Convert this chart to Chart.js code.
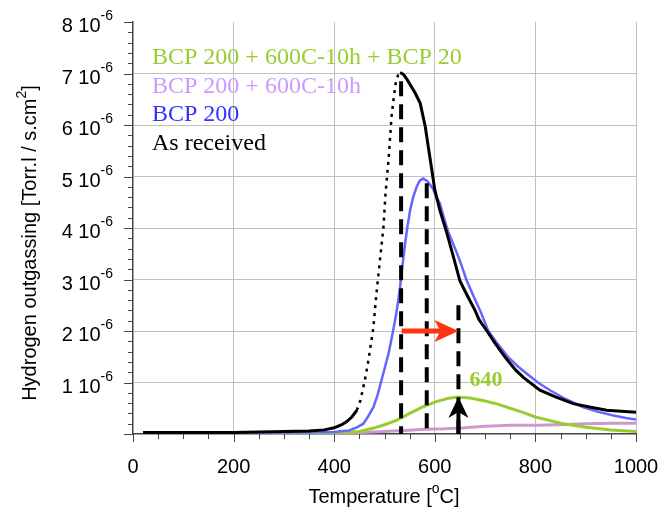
<!DOCTYPE html>
<html>
<head>
<meta charset="utf-8">
<script src="https://cdn.jsdelivr.net/npm/chart.js@4/dist/chart.umd.min.js"></script>
<style>
html, body { margin: 0; padding: 0; background: #fff; }
#wrap { width: 662px; height: 515px; }
</style>
</head>
<body>
<div id="wrap"><canvas id="graf" width="662" height="515"></canvas></div>
<script>
// valeurs en 1e-6 Torr.l / s.cm2, temperatures en degC
const tempAsReceived = [20,100,200,300,350,380,400,415,425,435,445,452,458,463,468,473,478,484,491,498,502,505,508,511,514,518,522,527,531,538,545,561,571,581,587,594,600,610,624,637,650,665,680,688,703,720,740,760,776,809,840,875,910,942,970,1000];
const asReceived = [0.03,0.03,0.03,0.05,0.06,0.08,0.12,0.18,0.24,0.33,0.46,0.65,0.91,1.15,1.43,1.75,2.08,2.73,3.38,4.02,4.67,5.0,5.32,5.75,6.16,6.5,6.8,6.97,7.02,6.98,6.88,6.62,6.42,5.97,5.58,5.13,4.74,4.35,3.9,3.44,2.97,2.68,2.4,2.22,2.01,1.76,1.49,1.25,1.1,0.85,0.72,0.59,0.52,0.46,0.44,0.42];

const tempBcp200 = [150,300,400,430,445,458,468,478,486,494,501,508,515,521,526,531,536,541,546,551,557,564,570,577,584,590,597,603,610,618,627,637,647,655,663,676,690,706,725,746,763,783,805,829,860,895,925,955,980,1000];
const bcp200 = [0.03,0.03,0.04,0.07,0.13,0.2,0.35,0.52,0.75,1.04,1.3,1.56,1.9,2.21,2.5,2.86,3.3,3.7,4.05,4.35,4.6,4.8,4.92,4.96,4.92,4.85,4.75,4.6,4.48,4.2,3.92,3.68,3.44,3.22,2.99,2.7,2.4,2.01,1.75,1.49,1.33,1.17,1.0,0.85,0.68,0.52,0.43,0.36,0.31,0.28];

const tempRecuit = [20,100,200,300,400,450,500,540,580,620,660,700,750,800,850,900,950,1000];
const bcpRecuit = [0.02,0.02,0.02,0.02,0.02,0.03,0.05,0.07,0.09,0.1,0.12,0.15,0.17,0.17,0.18,0.2,0.21,0.21];

const tempBcp20 = [20,100,200,300,400,450,480,500,525,550,575,600,625,645,670,700,725,750,775,800,825,850,875,900,950,1000];
const bcpRecuitBcp20 = [0.03,0.03,0.03,0.03,0.03,0.05,0.12,0.18,0.27,0.4,0.52,0.62,0.69,0.72,0.7,0.64,0.58,0.5,0.42,0.33,0.27,0.21,0.17,0.13,0.08,0.05];

const nomsSeries = ["As received", "BCP 200", "BCP 200 + 600C-10h", "BCP 200 + 600C-10h + BCP 20"];
const yTicks = [1,2,3,4,5,6,7,8];
const xTicks = [0,200,400,600,800,1000];

// pics et fleches
const picsTemp = [533, 584, 647];
const picsHaut = [6.85, 4.87, 2.5];
const flecheRouge = { de: 534, a: 647, val: 2.0 };
const flecheNoire = { temp: 647, de: 0, a: 0.72 };
const etiquettePic = { texte: "640", temp: 702, val: 1.04 };
// montee du pic "as received" tracee en marqueurs espaces
const monteeRecu = [440, 531];

function pts(xs, ys) { return xs.map((x, i) => ({ x: x, y: ys[i] })); }

function texteRiche(ctx, parts, x, y, align, taille, tailleSup, montee, police) {
    let larg = 0;
    parts.forEach(p => {
        ctx.font = (p.sup ? tailleSup : taille) + "px " + police;
        p.w = ctx.measureText(p.t).width;
        larg += p.w;
    });
    let cx = align === "right" ? x - larg : (align === "center" ? x - larg / 2 : x);
    parts.forEach(p => {
        ctx.font = (p.sup ? tailleSup : taille) + "px " + police;
        ctx.textAlign = "left";
        ctx.textBaseline = "alphabetic";
        ctx.fillText(p.t, cx, p.sup ? y - montee : y);
        cx += p.w;
    });
}

function fleche(ctx, x1, y1, x2, y2, ep, longTete, demiTete, creux, couleur) {
    const ang = Math.atan2(y2 - y1, x2 - x1);
    const L = Math.hypot(x2 - x1, y2 - y1);
    ctx.save();
    ctx.translate(x1, y1);
    ctx.rotate(ang);
    ctx.fillStyle = couleur;
    ctx.fillRect(0, -ep / 2, L - longTete + creux, ep);
    ctx.beginPath();
    ctx.moveTo(L, 0);
    ctx.lineTo(L - longTete, -demiTete);
    ctx.lineTo(L - longTete + creux, 0);
    ctx.lineTo(L - longTete, demiTete);
    ctx.closePath();
    ctx.fill();
    ctx.restore();
}

const annotations = {
    id: "annotations",
    afterDatasetsDraw(chart) {
        const { ctx, scales: { x, y } } = chart;
        ctx.save();
        ctx.strokeStyle = "#000";
        ctx.lineWidth = 4;
        ctx.setLineDash([15, 8]);
        picsTemp.forEach((t, i) => {
            ctx.beginPath();
            ctx.moveTo(x.getPixelForValue(t), y.getPixelForValue(picsHaut[i]));
            ctx.lineTo(x.getPixelForValue(t), y.getPixelForValue(0));
            ctx.stroke();
        });
        ctx.setLineDash([]);
        fleche(ctx, x.getPixelForValue(flecheRouge.de), y.getPixelForValue(flecheRouge.val),
            x.getPixelForValue(flecheRouge.a), y.getPixelForValue(flecheRouge.val), 5, 24, 11, 6, "#ff3311");
        fleche(ctx, x.getPixelForValue(flecheNoire.temp), y.getPixelForValue(flecheNoire.de),
            x.getPixelForValue(flecheNoire.temp), y.getPixelForValue(flecheNoire.a), 4, 21, 10, 6, "#000");
        ctx.fillStyle = "#99cc33";
        ctx.font = "bold 22px 'Liberation Serif', 'Times New Roman', serif";
        ctx.textAlign = "center";
        ctx.textBaseline = "middle";
        ctx.fillText(etiquettePic.texte, x.getPixelForValue(etiquettePic.temp), y.getPixelForValue(etiquettePic.val));
        ctx.restore();
    },
    afterDraw(chart) {
        const { ctx, scales: { x, y } } = chart;
        const sans = "'Liberation Sans', Arial, sans-serif";
        ctx.save();
        // graduations
        ctx.strokeStyle = "#444";
        ctx.lineWidth = 1;
        const x0 = x.getPixelForValue(0), y0 = y.getPixelForValue(0);
        for (let v = 0; v <= 1000; v += 50) {
            const px = Math.round(x.getPixelForValue(v)) + 0.5;
            ctx.beginPath();
            ctx.moveTo(px, y0);
            ctx.lineTo(px, y0 + (v % 200 === 0 ? 8 : 5));
            ctx.stroke();
        }
        for (let k = 0; k <= 40; k++) {
            const py = Math.round(y.getPixelForValue(k * 0.2)) + 0.5;
            ctx.beginPath();
            ctx.moveTo(x0, py);
            ctx.lineTo(x0 - (k % 5 === 0 ? 9 : 5), py);
            ctx.stroke();
        }
        // libelles
        ctx.fillStyle = "#000";
        ctx.font = "20px " + sans;
        ctx.textAlign = "center";
        ctx.textBaseline = "middle";
        xTicks.forEach(v => ctx.fillText(String(v), x.getPixelForValue(v), 467));
        yTicks.forEach(v => {
            texteRiche(ctx, [{ t: v + " 10" }, { t: "-6", sup: true }], 113, y.getPixelForValue(v) + 10, "right", 20, 14, 12, sans);
        });
        texteRiche(ctx, [{ t: "Temperature [" }, { t: "o", sup: true }, { t: "C]" }], 384, 503, "center", 20, 14, 10, sans);
        ctx.save();
        ctx.translate(36, 243);
        ctx.rotate(-Math.PI / 2);
        texteRiche(ctx, [{ t: "Hydrogen outgassing [Torr.l / s.cm" }, { t: "2", sup: true }, { t: "]" }], 0, 0, "center", 20, 14, 10, sans);
        ctx.restore();
        // legende
        const ordre = [3, 2, 1, 0];
        const couleursTexte = ["#000000", "#3333ff", "#cc99ff", "#99cc33"];
        ctx.font = "24px 'Liberation Serif', 'Times New Roman', serif";
        ctx.textAlign = "left";
        ctx.textBaseline = "alphabetic";
        ordre.forEach((i, k) => {
            ctx.fillStyle = couleursTexte[i];
            ctx.fillText(nomsSeries[i], 152, 64 + k * 28.7);
        });
        ctx.restore();
    }
};

const dansMontee = s => s.p0.parsed.x >= monteeRecu[0] && s.p0.parsed.x < monteeRecu[1];

const ctx = document.getElementById("graf").getContext("2d");
new Chart(ctx, {
    type: "line",
    data: {
        datasets: [
            { label: nomsSeries[0], data: pts(tempAsReceived, asReceived), borderColor: "#000", borderWidth: 3, pointRadius: 0, order: 0,
              segment: {
                  borderDash: s => dansMontee(s) ? [3, 5] : undefined,
                  borderWidth: s => dansMontee(s) ? 2.5 : undefined
              } },
            { label: nomsSeries[1], data: pts(tempBcp200, bcp200), borderColor: "#6666ff", borderWidth: 2.5, pointRadius: 0, order: 1 },
            { label: nomsSeries[2], data: pts(tempRecuit, bcpRecuit), borderColor: "#cc99cc", borderWidth: 3, pointRadius: 0, order: 3 },
            { label: nomsSeries[3], data: pts(tempBcp20, bcpRecuitBcp20), borderColor: "#99cc33", borderWidth: 3, pointRadius: 0, order: 2 }
        ]
    },
    options: {
        responsive: false,
        animation: false,
        layout: { padding: { top: 22, right: 26, left: 0, bottom: 0 } },
        plugins: { legend: { display: false }, tooltip: { enabled: false } },
        scales: {
            x: {
                type: "linear", min: 0, max: 1000,
                ticks: { display: false, stepSize: 200 },
                grid: { color: c => c.tick.value === 0 ? "rgba(0,0,0,0)" : "#c0c0c0", drawTicks: false, lineWidth: 1 },
                border: { color: "#444", width: 1.5 },
                afterFit: s => { s.height = 81; }
            },
            y: {
                min: 0, max: 8,
                ticks: { display: false, stepSize: 1 },
                grid: { color: c => (c.tick.value === 0 || c.tick.value === 8) ? "rgba(0,0,0,0)" : "#c0c0c0", drawTicks: false, lineWidth: 1 },
                border: { color: "#444", width: 1.5 },
                afterFit: s => { s.width = 133; }
            }
        }
    },
    plugins: [annotations]
});
</script>
</body>
</html>
